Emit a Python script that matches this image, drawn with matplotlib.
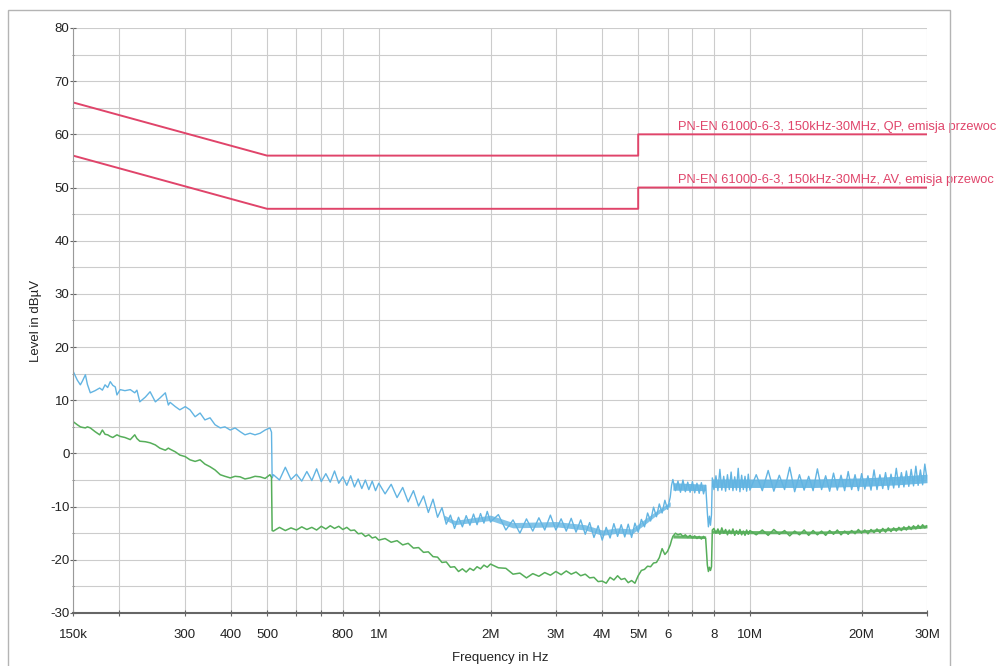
import matplotlib
matplotlib.use("Agg")
import matplotlib.pyplot as plt
from matplotlib.patches import Rectangle

plt.rcParams['font.family'] = ['Liberation Sans', 'DejaVu Sans']
plt.rcParams['axes.unicode_minus'] = False

# frequency points in MHz (shared by both traces)
freq_mhz = [0.150, 0.154, 0.157, 0.159, 0.162, 0.164, 0.167, 0.172, 0.177, 0.180,
            0.183, 0.186, 0.189, 0.192, 0.195, 0.197, 0.201, 0.207, 0.214, 0.220,
            0.223, 0.227, 0.235, 0.242, 0.250, 0.257, 0.266, 0.271, 0.274, 0.283,
            0.291, 0.301, 0.310, 0.320, 0.330, 0.340, 0.351, 0.362, 0.374, 0.385,
            0.398, 0.410, 0.423, 0.436, 0.450, 0.464, 0.479, 0.494, 0.509, 0.514,
            0.516,
            0.52, 0.54, 0.56, 0.58, 0.60, 0.62, 0.64, 0.66, 0.68, 0.70, 0.72, 0.74,
            0.76, 0.78, 0.80, 0.82, 0.84, 0.86, 0.88, 0.90, 0.92, 0.94, 0.96, 0.98, 1.00,
            1.04, 1.08, 1.12, 1.16, 1.20, 1.24, 1.28, 1.32, 1.36, 1.40, 1.44, 1.48,
            1.52, 1.56, 1.60, 1.64, 1.68, 1.72, 1.76, 1.80, 1.84, 1.88, 1.92, 1.96, 2.00,
            2.1, 2.2, 2.3, 2.4, 2.5, 2.6, 2.7, 2.8, 2.9, 3.0, 3.1, 3.2, 3.3, 3.4, 3.5,
            3.6, 3.7, 3.8, 3.9, 4.0, 4.1, 4.2, 4.3, 4.4, 4.5, 4.6, 4.7, 4.8, 4.9, 5.0,
            5.1, 5.2, 5.3, 5.4, 5.5, 5.6, 5.7, 5.8, 5.9, 6.0, 6.1, 6.15,
            6.2, 6.3, 6.4, 6.5, 6.6, 6.7, 6.8, 6.9, 7.0, 7.1, 7.2, 7.3, 7.4, 7.5, 7.6,
            7.68, 7.73, 7.78, 7.83, 7.88, 7.92,
            8.0, 8.1, 8.2, 8.3, 8.4, 8.5, 8.6, 8.7, 8.8, 8.9, 9.0, 9.1, 9.2, 9.3, 9.4,
            9.5, 9.6, 9.7, 9.8, 9.9, 10.0,
            10.4, 10.8, 11.2, 11.6, 12.0, 12.4, 12.8, 13.2, 13.6, 14.0, 14.4, 14.8,
            15.2, 15.6, 16.0, 16.4, 16.8, 17.2, 17.6, 18.0, 18.4, 18.8, 19.2, 19.6,
            20.0, 20.4, 20.8, 21.2, 21.6, 22.0, 22.4, 22.8, 23.2, 23.6, 24.0, 24.4,
            24.8, 25.2, 25.6, 26.0, 26.4, 26.8, 27.2, 27.6, 28.0, 28.4, 28.8, 29.2,
            29.6, 30.0]

# peak trace (blue), dBuV
peak_db = [15.5, 13.8, 12.9, 13.6, 14.8, 13.0, 11.4, 11.8, 12.3, 11.9,
           12.9, 12.4, 13.5, 12.8, 12.5, 11.0, 12.0, 11.8, 12.0, 11.4,
           11.9, 9.7, 10.6, 11.6, 9.7, 10.4, 11.4, 9.1, 9.6, 8.8,
           8.2, 8.8, 8.2, 6.9, 7.6, 6.3, 6.7, 5.4, 4.8, 5.0,
           4.4, 4.8, 4.1, 3.5, 3.8, 3.5, 3.8, 4.4, 4.8, 4.0,
           -4.6,
           -4.0, -5.0, -2.6, -4.9, -3.9, -5.2, -3.4, -5.1, -2.9, -5.3, -3.8, -5.4,
           -3.3, -5.6, -4.4, -6.0, -4.2, -6.3, -4.8, -6.6, -5.0, -6.8, -5.2, -7.0, -5.6,
           -7.6, -5.8, -8.3, -6.4, -9.1, -7.0, -9.9, -8.0, -11.1, -8.6, -12.0, -10.2,
           -13.3, -11.6, -14.1, -12.0, -13.8, -11.7, -13.5, -11.4, -13.4, -11.3, -13.1, -10.9, -12.9,
           -11.5, -14.4, -12.5, -15.0, -12.3, -14.6, -12.1, -14.4, -11.6, -14.4, -12.3, -14.6, -12.2, -14.8, -12.5,
           -15.2, -13.0, -15.8, -13.6, -16.3, -13.9, -15.9, -13.2, -15.6, -13.4, -15.7, -13.3, -15.8, -13.1, -14.8,
           -12.4, -13.8, -11.2, -12.7, -10.1, -11.9, -9.5, -11.2, -8.8, -10.5, -8.2, -6.0,
           -4.9, -7.0, -5.2, -7.3, -5.0, -7.2, -5.4, -7.3, -5.3, -7.4, -5.6, -7.5, -5.5, -7.6, -6.0,
           -11.2, -13.8, -11.8, -13.5, -11.5, -4.6,
           -6.8, -4.2, -7.0, -3.0, -6.9, -4.3, -7.1, -4.0, -6.8, -3.5, -7.0, -4.4, -6.9, -2.8, -7.2,
           -4.1, -6.8, -4.3, -7.1, -3.9, -6.9,
           -4.0, -7.0, -3.2, -7.1, -4.1, -6.8, -2.6, -7.2, -4.0, -6.9, -4.3, -7.0,
           -2.9, -6.8, -4.2, -7.1, -3.7, -6.9, -4.1, -7.0, -3.4, -6.8, -4.0, -7.0,
           -3.8, -6.7, -4.2, -6.9, -3.1, -6.8, -4.0, -6.6, -3.6, -6.8, -3.9, -6.5,
           -2.8, -6.4, -3.6, -6.3, -3.3, -6.2, -3.0, -6.1, -2.4, -6.0, -3.1, -5.9,
           -2.0, -4.8]

# average trace (green), dBuV
avg_db = [6.0, 5.4, 5.0, 4.9, 4.8, 5.0, 4.8, 4.1, 3.5, 4.4,
          3.6, 3.5, 3.2, 3.0, 3.3, 3.5, 3.2, 3.0, 2.6, 3.5,
          2.8, 2.3, 2.2, 2.0, 1.6, 1.0, 0.6, 1.0, 0.8, 0.3,
          -0.3, -0.6, -1.2, -1.5, -1.2, -2.0, -2.5, -3.1, -4.0, -4.3,
          -4.6, -4.3, -4.4, -4.8, -4.6, -4.3, -4.4, -4.7, -4.0, -4.5,
          -14.5,
          -14.6, -13.9, -14.5, -14.0, -14.4, -13.8, -14.3, -13.9, -14.4, -13.7, -14.2, -13.6,
          -14.1, -13.7, -14.3, -13.9, -14.5, -14.4, -15.1, -15.0, -15.6, -15.3, -15.9, -15.7, -16.3,
          -16.0, -16.7, -16.4, -17.2, -16.9, -17.8, -17.7, -18.6, -18.5, -19.4, -19.5, -20.5,
          -20.4, -21.4, -21.3, -22.2, -21.7, -22.3, -21.6, -22.0, -21.3, -21.7, -21.0, -21.4, -20.8,
          -21.5, -21.6, -22.7, -22.5, -23.4, -22.6, -23.1, -22.4, -22.9, -22.2, -22.8, -22.1, -22.7, -22.3, -23.0,
          -22.7, -23.4, -23.3, -24.1, -24.0, -24.4, -23.3, -23.8, -23.0, -23.7, -23.5, -24.3, -23.9, -24.4, -23.0,
          -22.0, -21.8, -21.2, -21.3, -20.6, -20.5, -19.6, -17.9, -19.0, -18.4, -17.2, -16.3,
          -15.6, -15.0, -15.3, -15.1, -15.6, -15.3, -15.8, -15.4, -15.9, -15.5, -16.0, -15.6, -16.1, -15.6, -16.0,
          -21.0, -22.2, -21.4, -22.0, -21.3, -14.4,
          -14.1, -15.0, -14.2, -15.2, -14.0, -15.0, -14.3, -15.3, -14.4, -15.1, -14.2, -15.4, -14.5, -15.2, -14.3,
          -15.3, -14.6, -15.4, -14.4, -15.2, -14.5,
          -15.3, -14.4, -15.4, -14.3, -15.2, -14.5, -15.5, -14.6, -15.3, -14.4, -15.4, -14.5,
          -15.3, -14.6, -15.4, -14.5, -15.2, -14.4, -15.3, -14.6, -15.2, -14.5, -15.1, -14.3,
          -15.0, -14.4, -15.1, -14.3, -14.9, -14.2, -14.9, -14.1, -14.8, -14.0, -14.7, -14.0,
          -14.6, -13.9, -14.5, -13.8, -14.4, -13.7, -14.3, -13.6, -14.2, -13.5, -14.1, -13.4,
          -14.0, -13.6]

# dense core of the blue trace between 1.5 and 6.1 MHz (lower / upper edge)
mid_mhz = [1.5, 1.6, 2.0, 2.3, 3.0, 3.6, 4.0, 4.4, 4.8, 5.2, 5.6, 6.1]
mid_lo = [-12.4, -13.4, -12.6, -14.0, -13.8, -14.4, -15.4, -15.0, -15.2, -13.4, -11.6, -9.9]
mid_hi = [-11.6, -12.6, -11.6, -13.0, -12.8, -13.4, -14.4, -14.0, -14.2, -12.4, -10.8, -9.1]

# dense noise core of the traces above 6 MHz (lower / upper edge, dBuV)
band_mhz = [6.2, 7.6, 7.92, 10.0, 15.0, 20.0, 25.0, 30.0]
peak_lo = [-6.9, -7.0, -6.4, -6.4, -6.4, -6.2, -5.9, -5.5]
peak_hi = [-5.5, -5.8, -4.8, -4.8, -4.8, -4.6, -4.3, -3.9]
avg_lo = [-15.9, -16.0, -15.0, -15.1, -15.1, -14.9, -14.4, -14.0]
avg_hi = [-15.3, -15.5, -14.4, -14.5, -14.6, -14.4, -13.9, -13.4]

# limit lines PN-EN 61000-6-3
lim_f = [0.15, 0.5, 5.0, 5.0, 30.0]
qp_lim = [66, 56, 56, 60, 60]
av_lim = [56, 46, 46, 50, 50]
qp_label = "PN-EN 61000-6-3, 150kHz-30MHz, QP, emisja przewoc"
av_label = "PN-EN 61000-6-3, 150kHz-30MHz, AV, emisja przewoc"

# x ticks / grid
tick_mhz = [0.15, 0.2, 0.3, 0.4, 0.5, 0.6, 0.7, 0.8, 1, 2, 3, 4, 5, 6, 7, 8, 10, 20, 30]
tick_lbl = ['150k', '', '300', '400', '500', '', '', '800', '1M', '2M', '3M', '4M', '5M',
            '6', '', '8', '10M', '20M', '30M']

red = '#e0446a'
blue = '#62b4e2'
green = '#56ae5a'

fig = plt.figure(figsize=(9.96, 6.66), dpi=100)
ax = fig.add_axes([0.0733, 0.0796, 0.8574, 0.8784])

# light page frame around the chart
fig.patches.append(Rectangle((0.008, -0.01), 0.946, 0.995, transform=fig.transFigure,
                             fill=False, edgecolor='#b4b4b4', linewidth=1.0))

hz = 1e6
fx = [f * hz for f in freq_mhz]
bx = [f * hz for f in band_mhz]
mx = [f * hz for f in mid_mhz]
ax.fill_between(mx, mid_lo, mid_hi, color=blue, lw=0, alpha=0.8)
# band split in two parts at the 7.7 MHz dip
ax.fill_between(bx[:2], peak_lo[:2], peak_hi[:2], color=blue, lw=0, alpha=0.9)
ax.fill_between(bx[2:], peak_lo[2:], peak_hi[2:], color=blue, lw=0, alpha=0.9)
ax.fill_between(bx[:2], avg_lo[:2], avg_hi[:2], color=green, lw=0, alpha=0.9)
ax.fill_between(bx[2:], avg_lo[2:], avg_hi[2:], color=green, lw=0, alpha=0.9)
ax.plot(fx, peak_db, color=blue, lw=1.0)
ax.plot(fx, avg_db, color=green, lw=1.1)
ax.plot([f * hz for f in lim_f], qp_lim, color=red, lw=1.4)
ax.plot([f * hz for f in lim_f], av_lim, color=red, lw=1.4)

ax.text(6.4e6, qp_lim[-1] + 0.3, qp_label, color=red, fontsize=9.3, va='bottom', clip_on=False)
ax.text(6.4e6, av_lim[-1] + 0.3, av_label, color=red, fontsize=9.3, va='bottom', clip_on=False)

ax.set_xscale('log')
ax.set_xlim(0.15e6, 30e6)
ax.set_ylim(-30, 80)
ax.set_xticks([t * hz for t in tick_mhz])
ax.set_xticklabels(tick_lbl)
ax.xaxis.set_minor_locator(matplotlib.ticker.NullLocator())
ax.set_yticks(range(-30, 81, 10))
ax.set_yticks(range(-25, 80, 10), minor=True)

ax.grid(True, which='both', color='#cccccc', lw=0.8)
ax.set_axisbelow(True)
ax.tick_params(axis='both', which='both', direction='inout', color='#666666', labelsize=9.5,
               labelcolor='#222222')
ax.tick_params(axis='x', length=5, pad=9)
ax.tick_params(axis='y', length=5, pad=0)

for s in ['top', 'right']:
    ax.spines[s].set_visible(False)
ax.spines['left'].set_color('#9a9a9a')
ax.spines['bottom'].set_color('#666666')
ax.spines['bottom'].set_linewidth(1.5)

ax.set_xlabel('Frequency in Hz', fontsize=9.5, color='#222222', labelpad=8)
ax.set_ylabel('Level in dBµV', fontsize=9.5, color='#222222', labelpad=6)

fig.savefig('out.png', dpi=100)
